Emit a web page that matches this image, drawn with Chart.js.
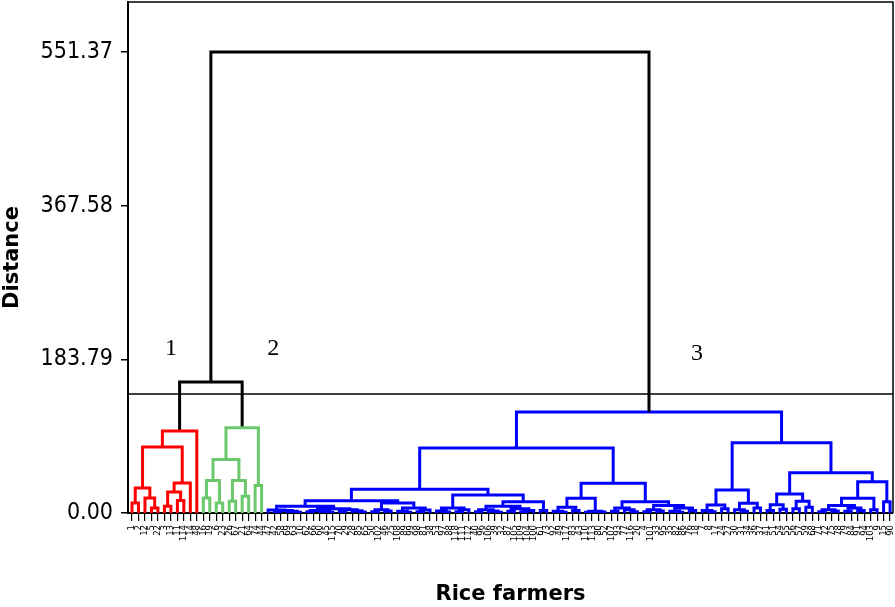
<!DOCTYPE html>
<html>
<head>
<meta charset="utf-8">
<script src="https://cdn.jsdelivr.net/npm/chart.js@4.4.1/dist/chart.umd.min.js"></script>
<style>
  html, body { margin: 0; padding: 0; background: #fff; }
  #wrap { width: 895px; height: 607px; }
</style>
</head>
<body>
<div id="wrap"><canvas id="dendro" width="895" height="607"></canvas></div>
<script>
// Leaf labels, in dendrogram order
const leafLabels = [
  '1','2','12','5','22','3','13','11','114','14','48',
  '16','19','6','23','26','67','21','64','74','44',
  '47','42','58','69','63','10','62','66','60','45',
  '115','70','29','28','85','65','50','102','46','25',
  '108','89','99','98','81','38','53','97','88','118',
  '111','112','40','96','106','39','32','87','105','109',
  '104','100','61','73','92','49','117','83','43','110',
  '113','80','52','107','93','77','116','20','4','101',
  '33','95','35','82','86','76','18','7','8','17',
  '24','27','30','31','34','36','37','41','51','54',
  '55','56','57','59','68','71','72','75','78','79',
  '84','91','94','103','9','15','90'
];

const yTicks = [0, 183.79, 367.58, 551.37];
const cutHeight = 142.3;
const clusterNames = ['1', '2', '3'];
const clusterColors = ['#ff0000', '#6cc86c', '#0000ff'];

// merges: [height, left, right]; a number is a leaf position
const redTree = [98, [79, [30, [12, 0, 1], [18, 2, [6, 3, 4]]], [36, [25, [8, 5, 6], [15, 7, 8]], 9]], 10];
const greenTree = [102, [64, [39, [18, 11, 12], [12, 13, 14]], [39, [14, 15, 16], [20, 17, 18]]], [33, 19, 20]];

const a1 = [8,
  [3.5, 21, [3, [1.2, 22, 23], [2, 24, [0.8, 25, 26]]]],
  [5, [3, [1.5, 27, 28], [2.2, 29, [1, 30, 31]]], [4, [1.8, 32, 33], [2.6, 34, [1.2, 35, 36]]]]];
const a2 = [12,
  [4, [1.5, 37, 38], [2.5, 39, 40]],
  [6, [2, 41, [1, 42, 43]], [3.5, [1.4, 44, 45], 46]]];
const b1 = [6, [2.5, 47, [1.2, 48, 49]], [4, [1.5, 50, 51], 52]];
const b2 = [13.5,
  [8, [4, [1.5, 53, 54], [2.5, 55, [1, 56, 57]]], [5, [2, 58, 59], [3, [1.3, 60, 61], 62]]],
  [3, 63, 64]];
const c = [17.5, [7, [2, 65, [1, 66, 67]], [3, 68, 69]], [2, [0.8, 70, 71], [1.2, 72, 73]]];
const d = [13.5,
  [6, [2, 74, 75], [4, 76, [1.5, 77, 78]]],
  [9, [4, [1.5, 79, 80], [2.5, 81, 82]], [6, [2, 83, [1, 84, 85]], [3, 86, 87]]]];
const e = [27.5,
  [9.6, [3, 88, [1.5, 89, 90]], [5, 91, 92]],
  [11.6, [4, 93, [2, 94, 95]], [6, 96, 97]]];
const g = [22.7, [10, [3, 98, 99], [4.5, 100, 101]], [14, [5, 102, 103], [7, 104, 105]]];
const h = [37.5,
  [17.6, [9, [4, [1.5, 106, 107], [2.5, 108, 109]], [6, [2, 110, 111], [3, 112, 113]]], [4, 114, 115]],
  [13.5, 116, 117]];
const blueTree = [120.8, [77.7, [28.3, [14.7, a1, a2], [21.5, b1, b2]], [35.5, c, d]], [84, e, [48, g, h]]];

const tree = [551.37, [156.7, redTree, greenTree], blueTree];

// turn the merges into U-shaped links, one path list per colour
const paths = {};
let nextCluster = 0;
function walk(node, color) {
  if (!Array.isArray(node)) return { x: node, y: 0 };
  const [ht, left, right] = node;
  if (!color && ht < cutHeight) {
    color = clusterColors[nextCluster++];
  }
  const l = walk(left, color), r = walk(right, color);
  const col = color || '#000000';
  (paths[col] = paths[col] || []).push(
    { x: l.x, y: l.y }, { x: l.x, y: ht }, { x: r.x, y: ht }, { x: r.x, y: r.y }, { x: r.x, y: null }
  );
  return { x: (l.x + r.x) / 2, y: ht };
}
walk(tree, null);

const xMin = -0.62, xMax = leafLabels.length - 0.55;

const datasets = Object.keys(paths).map(col => ({
  data: paths[col],
  borderColor: col,
  borderWidth: 3,
  pointRadius: 0,
  tension: 0,
  spanGaps: false,
  borderJoinStyle: 'miter'
}));
datasets.push({
  data: [{ x: xMin, y: cutHeight }, { x: xMax, y: cutHeight }],
  borderColor: '#000',
  borderWidth: 1.5,
  pointRadius: 0
});

const decor = {
  id: 'decor',
  afterDatasetsDraw(chart) {
    const { ctx, chartArea: a, scales: { x, y } } = chart;
    ctx.save();
    ctx.strokeStyle = '#000';
    ctx.lineWidth = 1.5;
    ctx.beginPath();
    ctx.moveTo(a.left, a.top);
    ctx.lineTo(a.right, a.top);
    ctx.lineTo(a.right, a.bottom);
    ctx.stroke();
    ctx.fillStyle = '#000';
    ctx.font = '24px "Liberation Serif", serif';
    ctx.textAlign = 'center';
    ctx.textBaseline = 'middle';
    const spots = [[6, 197], [21.8, 197], [87.2, 190]];
    clusterNames.forEach((t, i) => ctx.fillText(t, x.getPixelForValue(spots[i][0]), y.getPixelForValue(spots[i][1])));
    ctx.restore();
  }
};

const titleFont = { size: 21, weight: 'bold', family: '"DejaVu Sans", sans-serif' };

new Chart(document.getElementById('dendro'), {
  type: 'line',
  data: { datasets },
  plugins: [decor],
  options: {
    responsive: false,
    animation: false,
    devicePixelRatio: 1,
    layout: { padding: { top: 2, right: 2, left: 0, bottom: 0 } },
    plugins: { legend: { display: false }, tooltip: { enabled: false } },
    scales: {
      x: {
        type: 'linear',
        min: xMin,
        max: xMax,
        afterBuildTicks: s => { s.ticks = leafLabels.map((_, i) => ({ value: i })); },
        afterFit: s => { s.height = 94; s.paddingLeft = 0; s.paddingRight = 0; },
        border: { color: '#000', width: 2 },
        grid: { drawOnChartArea: false, drawTicks: true, tickLength: 8, color: '#000', lineWidth: 1.2 },
        ticks: {
          autoSkip: false,
          minRotation: 90,
          maxRotation: 90,
          padding: 4,
          color: '#000',
          font: { size: 9.5, family: '"DejaVu Sans Condensed", "DejaVu Sans", sans-serif' },
          callback: v => leafLabels[v]
        },
        title: { display: true, text: 'Rice farmers', color: '#000', padding: 0, font: titleFont }
      },
      y: {
        min: 0,
        max: 611.2,
        afterBuildTicks: s => { s.ticks = yTicks.map(v => ({ value: v })); },
        afterFit: s => { s.width = 128; s.paddingTop = 0; s.paddingBottom = 0; },
        border: { color: '#000', width: 2 },
        grid: { drawOnChartArea: false, drawTicks: true, tickLength: 7, color: '#000', lineWidth: 1.5 },
        ticks: {
          padding: 8,
          color: '#000',
          font: { size: 23, family: '"DejaVu Sans Condensed", "DejaVu Sans", sans-serif' },
          callback: v => v.toFixed(2)
        },
        title: { display: true, text: 'Distance', color: '#000', padding: 0, font: titleFont }
      }
    }
  }
});
</script>
</body>
</html>
